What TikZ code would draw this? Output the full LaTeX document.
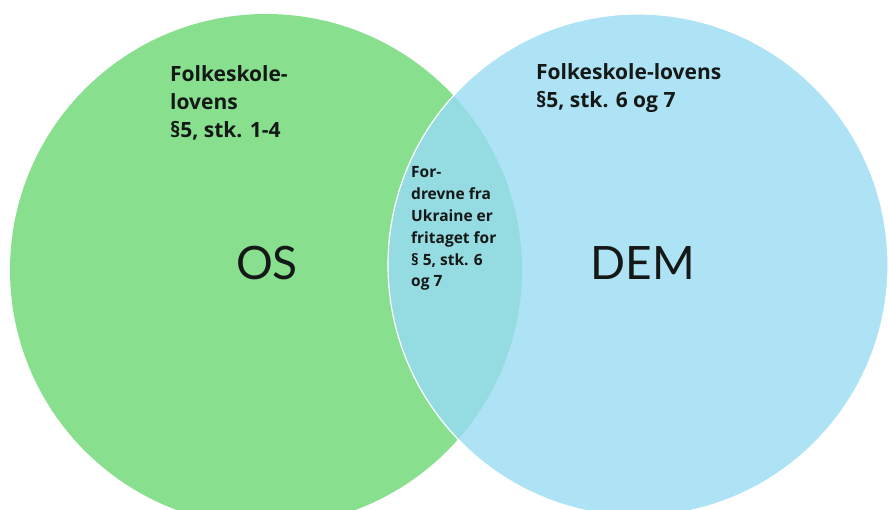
\documentclass[tikz,border=0pt]{standalone}
\usepackage{fontspec}
\setmainfont{Lato}
\newfontfamily\headfont{Open Sans}
\usetikzlibrary{shapes.geometric}
\definecolor{grn}{RGB}{136,224,143}
\definecolor{blu}{RGB}{173,227,245}
\definecolor{mix}{RGB}{148,219,226}
\definecolor{ink}{RGB}{20,24,22}
\begin{document}
\begin{tikzpicture}[x=1pt,y=-1pt,
  bigtxt/.style={font=\fontsize{46}{50}\selectfont, text=ink, inner sep=0pt, anchor=base},
  headtxt/.style={font=\headfont\bfseries\fontsize{21}{28}\selectfont, text=ink, inner sep=0pt, align=left, anchor=base west},
  midtxt/.style={font=\headfont\bfseries\fontsize{15.5}{21.8}\selectfont, text=ink, inner sep=0pt, align=left, anchor=base west}]
\useasboundingbox (0,0) rectangle (889,510);
\clip (0,0) rectangle (889,510);
% circles
\node[ellipse, fill=grn, inner sep=0pt, minimum width=512pt, minimum height=512pt] (green) at (266,270) {};
\node[ellipse, fill=blu, inner sep=0pt, minimum width=500pt, minimum height=502pt] (blue) at (638,265) {};
\begin{scope}
  \clip (266,270) ellipse [x radius=256, y radius=-256];
  \fill[mix] (638,265) ellipse [x radius=250, y radius=-251];
\end{scope}
\draw[white, line width=1.2pt] (638,265) ellipse [x radius=250, y radius=-251];
% texts (anchor = baseline of last line)
\node[headtxt] (lt) at (170,138) {Folkeskole-\\lovens\\§5, stk. 1-4};
\node[headtxt] (rt) at (536,108) {Folkeskole-lovens\\§5, stk. 6 og 7};
\node[midtxt] (mt) at (411,287) {For-\\drevne fra\\Ukraine er\\fritaget for\\§ 5, stk. 6\\og 7};
\node[bigtxt] (os) at (267,280) {OS};
\node[bigtxt] (dem) at (643,280) {DEM};
\end{tikzpicture}
\end{document}
